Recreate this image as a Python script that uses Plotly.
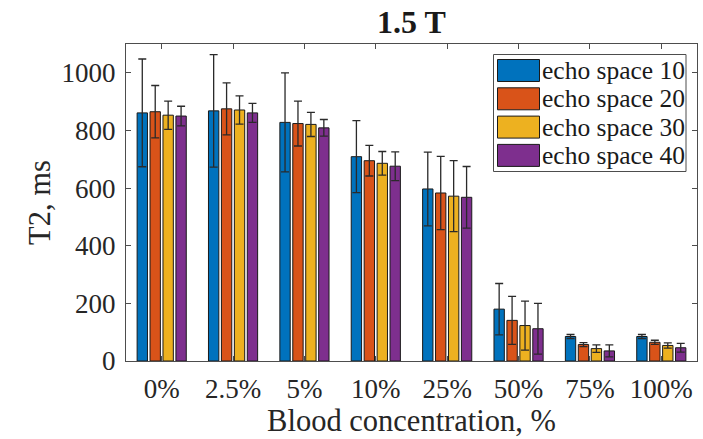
import plotly.graph_objects as go

# Blood concentration groups
categories = ["0%", "2.5%", "5%", "10%", "25%", "50%", "75%", "100%"]

# Mean T2 (ms) per echo spacing
t2_es10 = [861, 868, 828, 709, 597, 180, 85, 85]
t2_es20 = [865, 875, 824, 695, 583, 141, 57, 65]
t2_es30 = [853, 871, 821, 686, 572, 123, 43, 54]
t2_es40 = [850, 861, 809, 676, 568, 112, 35, 46]

# Standard deviations (ms)
sd_es10 = [187, 195, 172, 125, 128, 89, 7, 7]
sd_es20 = [91, 90, 78, 53, 127, 83, 7, 7]
sd_es30 = [49, 49, 42, 41, 123, 85, 13, 9]
sd_es40 = [34, 33, 29, 50, 107, 88, 21, 15]

series_names = ["echo space 10", "echo space 20", "echo space 30", "echo space 40"]
series_colors = ["#0072BD", "#D95319", "#EDB120", "#7E2F8E"]

y_ticks = [0, 200, 400, 600, 800, 1000]

W, H = 703, 439
L, R, T, B = 126, 6, 44, 78
PW, PH = W - L - R, H - T - B

FONT = "Liberation Serif"
AXIS_COLOR = "#4d4d4d"


def px_x(px):
    return (px - L) / PW


def px_y(py):
    return (H - B - py) / PH


fig = go.Figure()
means = [t2_es10, t2_es20, t2_es30, t2_es40]
sds = [sd_es10, sd_es20, sd_es30, sd_es40]
for name, color, m, s in zip(series_names, series_colors, means, sds):
    fig.add_trace(go.Bar(
        x=categories, y=m, name=name,
        marker=dict(color=color, line=dict(color="#1a1a1a", width=1)),
        error_y=dict(type="data", array=s, visible=True,
                     color="#2a2a2a", thickness=1.3, width=4),
        showlegend=False,
    ))

# Boxed legend with large swatches
shapes = [dict(type="rect", xref="paper", yref="paper",
               x0=px_x(493.5), x1=px_x(686), y0=px_y(171.5), y1=px_y(54.5),
               line=dict(color=AXIS_COLOR, width=1), fillcolor="white", layer="above")]
annotations = []
for i, (name, color) in enumerate(zip(series_names, series_colors)):
    top = 59.5 + i * 28.3
    shapes.append(dict(type="rect", xref="paper", yref="paper",
                       x0=px_x(497.5), x1=px_x(539.5), y0=px_y(top + 22), y1=px_y(top),
                       line=dict(color="#1a1a1a", width=1), fillcolor=color, layer="above"))
    annotations.append(dict(xref="paper", yref="paper", x=px_x(540), y=px_y(top + 11),
                            text=name, showarrow=False, xanchor="left", yanchor="middle",
                            font=dict(family=FONT, size=25.5, color="#1a1a1a")))

fig.update_layout(
    width=W, height=H,
    margin=dict(l=L, r=R, t=T, b=B, pad=0),
    paper_bgcolor="white", plot_bgcolor="white",
    barmode="group", bargap=0.275, bargroupgap=0.2,
    font=dict(family=FONT, color="#262626"),
    title=dict(text="<b>1.5 T</b>", x=0.5 * (L + W - R) / W, xanchor="center",
               y=1 - 22 / H, yanchor="middle",
               font=dict(family=FONT, size=32, color="#1a1a1a")),
    shapes=shapes, annotations=annotations,
)

fig.update_xaxes(
    range=[-0.5, 7.5], showline=True, linecolor=AXIS_COLOR, linewidth=1,
    mirror="ticks", ticks="inside", ticklen=5, tickcolor=AXIS_COLOR,
    tickfont=dict(family=FONT, size=27, color="#262626"),
    ticklabelstandoff=4,
    title=dict(text="Blood concentration, %", standoff=5,
               font=dict(family=FONT, size=30.5, color="#262626")),
    showgrid=False, zeroline=False,
)
fig.update_yaxes(
    range=[0, 1100], tickvals=y_ticks, showline=True, linecolor=AXIS_COLOR, linewidth=1,
    mirror="ticks", ticks="inside", ticklen=5, tickcolor=AXIS_COLOR,
    tickfont=dict(family=FONT, size=27, color="#262626"),
    ticklabelstandoff=4,
    title=dict(text="T2, ms", standoff=1,
               font=dict(family=FONT, size=30.5, color="#262626")),
    showgrid=False, zeroline=False,
)

fig.write_html("out.html")
